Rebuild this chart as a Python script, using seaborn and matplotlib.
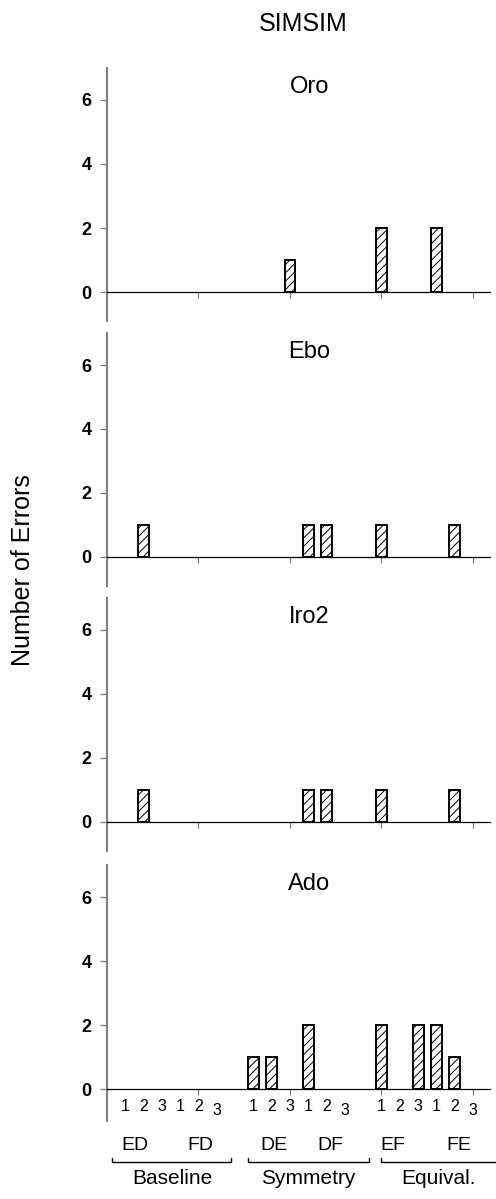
"""
SIMSIM error counts per participant, recreated with seaborn
"""
import numpy as np
import pandas as pd
import matplotlib
matplotlib.use("Agg")
import matplotlib.pyplot as plt
import seaborn as sns

# ---- data ----
sections = ["Baseline", "Symmetry", "Equival."]
relations = ["ED", "FD", "DE", "DF", "EF", "FE"]
trial_labels = ["1", "2", "3"]
participants = ["Oro", "Ebo", "Iro2", "Ado"]

# errors per relation x trial (ED1..ED3, FD1..FD3, DE1.., DF1.., EF1.., FE1..)
oro_errors = [0, 0, 0, 0, 0, 0, 0, 0, 1, 0, 0, 0, 2, 0, 0, 2, 0, 0]
ebo_errors = [0, 1, 0, 0, 0, 0, 0, 0, 0, 1, 1, 0, 1, 0, 0, 0, 1, 0]
iro2_errors = [0, 1, 0, 0, 0, 0, 0, 0, 0, 1, 1, 0, 1, 0, 0, 0, 1, 0]
ado_errors = [0, 0, 0, 0, 0, 0, 1, 1, 0, 2, 0, 0, 2, 0, 2, 2, 1, 0]

all_errors = [oro_errors, ebo_errors, iro2_errors, ado_errors]

# slot positions: 6 bars per section, one empty slot between sections
slots = []
for s in range(len(sections)):
    for k in range(6):
        slots.append(s * 7 + k + 1)
slots = np.array(slots, dtype=float)

sns.set_style("white")
plt.rcParams['font.family'] = ['Liberation Sans', 'DejaVu Sans']
plt.rcParams['text.color'] = 'black'
plt.rcParams['ytick.labelcolor'] = 'black'
plt.rcParams['hatch.linewidth'] = 0.7
plt.rcParams['hatch.color'] = '#222222'

W, H = 496, 1199
fig = plt.figure(figsize=(W / 100, H / 100), dpi=100)

# zero line of each panel (px from top), 32 px per unit
zero_px = [292, 557, 822, 1089]
ybottom = [-0.9, -0.9, -0.9, -1.0]
px_per_unit = 32
left_px, right_px = 107, 490
xmax = 20.93

axes = []
for i, name in enumerate(participants):
    top = zero_px[i] - 7 * px_per_unit
    bottom = zero_px[i] - ybottom[i] * px_per_unit
    ax = fig.add_axes([left_px / W, 1 - bottom / H,
                       (right_px - left_px) / W, (bottom - top) / H])
    df = pd.DataFrame({'slot': slots, 'errors': all_errors[i]})
    sns.barplot(data=df, x='slot', y='errors', native_scale=True,
                width=0.6, color='white', edgecolor='black',
                linewidth=1.4, errorbar=None, ax=ax)
    for p in list(ax.patches):
        if p.get_height() == 0:
            p.remove()
        else:
            p.set_hatch('////')
            p.set_facecolor('white')
    ax.set_xlim(0, xmax)
    ax.set_ylim(ybottom[i], 7)
    ax.set_xlabel('')
    ax.set_ylabel('')
    ax.set_yticks([0, 2, 4, 6])
    ax.set_xticks([5, 10, 15, 20])
    ax.set_xticklabels([])
    ax.spines['top'].set_visible(False)
    ax.spines['right'].set_visible(False)
    ax.spines['left'].set_color('#808080')
    ax.spines['left'].set_linewidth(1.5)
    ax.spines['bottom'].set_position(('data', 0))
    ax.spines['bottom'].set_color('black')
    ax.spines['bottom'].set_linewidth(0.9)
    ax.tick_params(axis='y', left=True, direction='out', length=5, width=0.9,
                   color='#808080', labelcolor='black', pad=6, labelsize=13)
    ax.tick_params(axis='x', bottom=True, direction='out', length=4,
                   width=0.9, color='#808080')
    for lab in ax.get_yticklabels():
        lab.set_fontweight('bold')
    ax.patch.set_alpha(0)
    ax.text(11.05, 6.4, name, ha='center', va='center', fontsize=17)
    axes.append(ax)

# category labels below the last panel
ax = axes[-1]
for j, x in enumerate(slots):
    lab = trial_labels[j % 3]
    dy = -0.1 if (j % 6) == 5 else 0.0
    ax.text(x, -0.56 + dy, lab, ha='center', va='center', fontsize=11.5,
            clip_on=False)

rel_x = [1.5, 5.1, 9.1, 12.2, 15.6, 19.2]
for rel, x in zip(relations, rel_x):
    ax.text(x, -1.75, rel, ha='center', va='center', fontsize=14,
            clip_on=False)

brackets = [(0.27, 6.8), (7.7, 14.3), (15.0, 21.5)]
sec_x = [3.55, 11.0, 18.1]
for (x0, x1), sec, sx in zip(brackets, sections, sec_x):
    ax.plot([x0, x0, x1, x1], [-2.15, -2.28, -2.28, -2.15], color='black',
            lw=1.0, clip_on=False)
    ax.text(sx, -2.8, sec, ha='center', va='center', fontsize=15,
            clip_on=False)

fig.text(303 / W, 1 - 24 / H, "SIMSIM", ha='center', va='center', fontsize=18)
fig.text(23 / W, 1 - 570 / H, "Number of Errors", ha='center', va='center',
         rotation=90, fontsize=18)

fig.savefig("out.png", dpi=100)
